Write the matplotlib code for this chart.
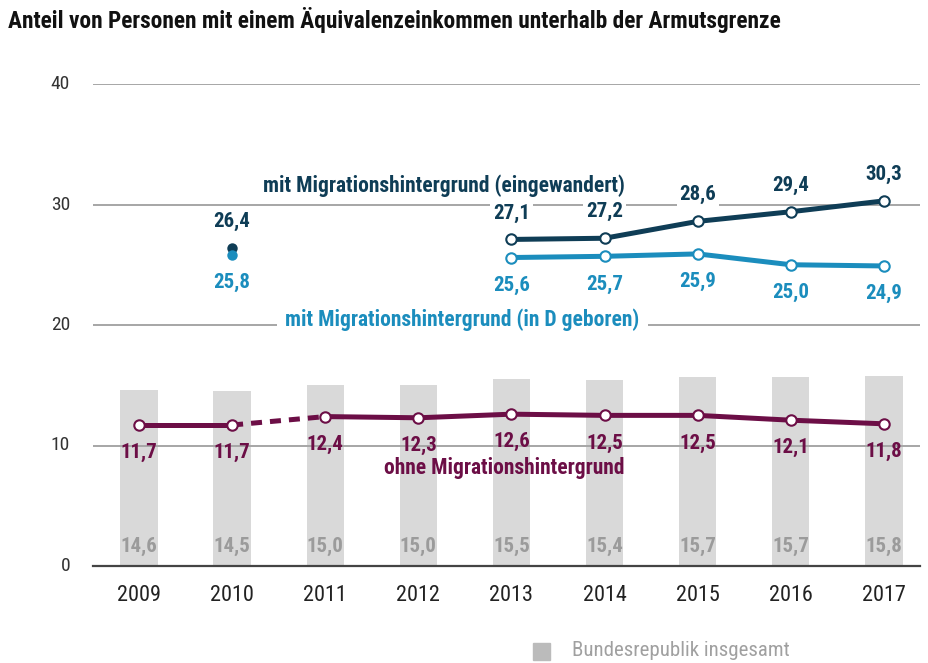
import matplotlib
matplotlib.use("Agg")
import matplotlib.pyplot as plt
from matplotlib import font_manager as fm

# ---- data ----
years = [2009, 2010, 2011, 2012, 2013, 2014, 2015, 2016, 2017]
bund_total = [14.6, 14.5, 15.0, 15.0, 15.5, 15.4, 15.7, 15.7, 15.8]
ohne_mig = [11.7, 11.7, 12.4, 12.3, 12.6, 12.5, 12.5, 12.1, 11.8]
eing_years = [2013, 2014, 2015, 2016, 2017]
eingewandert = [27.1, 27.2, 28.6, 29.4, 30.3]
geboren = [25.6, 25.7, 25.9, 25.0, 24.9]
single_year = 2010
eing_2010 = 26.4
geb_2010 = 25.8
yticks = [0, 10, 20, 30, 40]

title = "Anteil von Personen mit einem Äquivalenzeinkommen unterhalb der Armutsgrenze"
lbl_eing = "mit Migrationshintergrund (eingewandert)"
lbl_geb = "mit Migrationshintergrund (in D geboren)"
lbl_ohne = "ohne Migrationshintergrund"
lbl_bund = "Bundesrepublik insgesamt"

# ---- font ----
names = {f.name for f in fm.fontManager.ttflist}
family = "DejaVu Sans"
stretch = "normal"
for cand in ["Liberation Sans Narrow", "Roboto Condensed", "Open Sans Condensed"]:
    if cand in names:
        family = cand
        break
else:
    if any(("DejaVu Sans" == f.name and "ondensed" in f.fname) for f in fm.fontManager.ttflist):
        stretch = "condensed"
plt.rcParams["font.family"] = family
plt.rcParams["font.stretch"] = stretch

C_DARK = "#0f3d56"
C_LIGHT = "#1b8dbd"
C_PURP = "#6c0e46"
C_BAR = "#d9d9d9"
C_BARTXT = "#9b9b9b"
FS = 15

def fmt(v):
    return f"{v:.1f}".replace(".", ",")

fig = plt.figure(figsize=(9.29, 6.63), dpi=100)
ax = fig.add_axes([93/929, (663-566)/663, (920-93)/929, (566-84)/663])
ax.set_xlim(2008.506, 2017.387)
ax.set_ylim(0, 40)
for s in ax.spines.values():
    s.set_visible(False)
ax.set_xticks([])
ax.set_yticks([])

# gridlines
for t in yticks:
    if t == 0:
        ax.axhline(0, color="#444444", lw=1.6, zorder=2, clip_on=False)
    else:
        ax.axhline(t, color="#a6a6a6", lw=1.4, zorder=1.5)
    ax.text(2008.26, t, str(t), ha="right", va="center", fontsize=14, color="#333333")

for y in years:
    ax.text(y, -2.45, str(y), ha="center", va="center", fontsize=16, color="#222222")

# bars
ax.bar(years, bund_total, width=0.4, color=C_BAR, zorder=1)
for y, v in zip(years, bund_total):
    ax.text(y, 1.65, fmt(v), ha="center", va="center", fontsize=FS, color=C_BARTXT,
            fontweight="bold", zorder=3)

mk = dict(marker="o", markersize=7.5, markerfacecolor="white", markeredgewidth=1.5)

# ohne Migrationshintergrund
ax.plot(years[:2], ohne_mig[:2], color=C_PURP, lw=3.6, zorder=4)
ax.plot(years[1:3], ohne_mig[1:3], color=C_PURP, lw=3.6, zorder=4, ls=(0, (2.2, 1.6)))
ax.plot(years[2:], ohne_mig[2:], color=C_PURP, lw=3.6, zorder=4)
ax.plot(years, ohne_mig, ls="none", markeredgecolor=C_PURP, zorder=5, **mk)
for y, v in zip(years, ohne_mig):
    ax.text(y, v - 2.3, fmt(v), ha="center", va="center", fontsize=FS, color=C_PURP,
            fontweight="bold", zorder=3)
ax.text(2012.92, 8.1, lbl_ohne, ha="center", va="center", fontsize=15.5, color=C_PURP,
        fontweight="bold", zorder=3)

# eingewandert
ax.plot(eing_years, eingewandert, color=C_DARK, lw=3.6, zorder=4,
        markeredgecolor=C_DARK, **mk)
for y, v in zip(eing_years, eingewandert):
    ax.text(y, v + 2.2, fmt(v), ha="center", va="center", fontsize=FS, color=C_DARK,
            fontweight="bold", zorder=3,
            bbox=dict(facecolor="white", edgecolor="none", pad=2))
ax.text(2012.28, 31.6, lbl_eing, ha="center", va="center", fontsize=15.5, color=C_DARK,
        fontweight="bold", zorder=3,
        bbox=dict(facecolor="white", edgecolor="none", pad=2))

# in D geboren
ax.plot(eing_years, geboren, color=C_LIGHT, lw=3.6, zorder=3.8,
        markeredgecolor=C_LIGHT, **mk)
for y, v in zip(eing_years, geboren):
    ax.text(y, v - 2.3, fmt(v), ha="center", va="center", fontsize=FS, color=C_LIGHT,
            fontweight="bold", zorder=3,
            bbox=dict(facecolor="white", edgecolor="none", pad=2))
ax.text(2012.47, 20.4, lbl_geb, ha="center", va="center", fontsize=15.5, color=C_LIGHT,
        fontweight="bold", zorder=3,
        bbox=dict(facecolor="white", edgecolor="none", pad=6))

# 2010 single points
ax.plot([single_year], [eing_2010], marker="o", markersize=7.5, color=C_DARK, ls="none",
        zorder=4.9, markeredgewidth=0)
ax.plot([single_year], [geb_2010], marker="o", markersize=7.5, color=C_LIGHT, ls="none",
        zorder=5, markeredgewidth=0)
ax.text(single_year, eing_2010 + 2.2, fmt(eing_2010), ha="center", va="center", fontsize=FS,
        color=C_DARK, fontweight="bold", zorder=3)
ax.text(single_year, geb_2010 - 2.3, fmt(geb_2010), ha="center", va="center", fontsize=FS,
        color=C_LIGHT, fontweight="bold", zorder=3)

# title
fig.text(8/929, 1 - 20/663, title, ha="left", va="center", fontsize=16.8, fontweight="bold",
         color="#111111")

# legend
fig.patches.append(plt.Rectangle((533/929, 1 - 660/663), 17/929, 17/663,
                                 transform=fig.transFigure, color="#bbbbbb"))
fig.text(572/929, 1 - 651/663, lbl_bund, ha="left", va="center", fontsize=15, color="#a0a0a0")

fig.savefig("out.png", dpi=100)
